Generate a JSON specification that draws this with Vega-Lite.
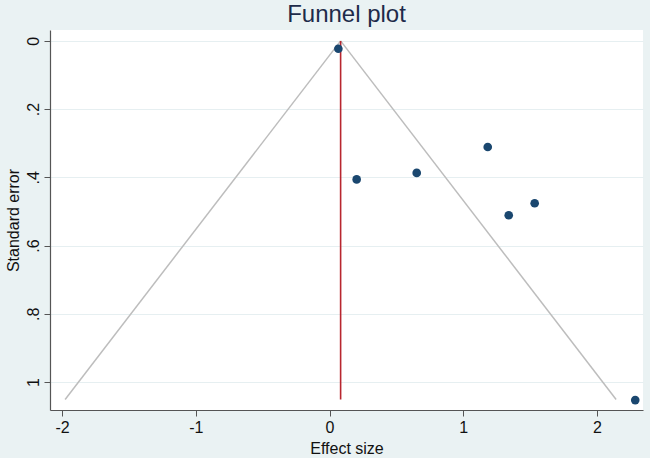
{
  "$schema": "https://vega.github.io/schema/vega-lite/v6.json",
  "autosize": {"type": "none"},
  "width": 593,
  "height": 380,
  "padding": {"top": 30, "left": 50, "right": 7, "bottom": 48},
  "background": "#EAF2F3",
  "config": {
    "view": {"stroke": null, "fill": "white"},
    "font": "Liberation Sans"
  },
  "title": {
    "text": "Funnel plot",
    "fontSize": 24,
    "fontWeight": "normal",
    "color": "#1E2B4A",
    "anchor": "middle",
    "offset": 3,
    "font": "Liberation Sans"
  },
  "datasets": {
    "studies": [
      {"effect": 0.066, "se": 0.023},
      {"effect": 0.203, "se": 0.406},
      {"effect": 0.652, "se": 0.387},
      {"effect": 1.183, "se": 0.311},
      {"effect": 1.340, "se": 0.511},
      {"effect": 1.534, "se": 0.476},
      {"effect": 2.286, "se": 1.053}
    ],
    "funnel": [
      {"side": "left", "effect": 0.083, "se": 0},
      {"side": "left", "effect": -1.977, "se": 1.051},
      {"side": "right", "effect": 0.083, "se": 0},
      {"side": "right", "effect": 2.143, "se": 1.051}
    ],
    "pooled": [
      {"effect": 0.083, "se_top": 0, "se_bottom": 1.051}
    ]
  },
  "layer": [
    {
      "data": {"name": "funnel"},
      "mark": {"type": "line", "color": "#BDBDBD", "strokeWidth": 1.5},
      "encoding": {
        "x": {
          "field": "effect", "type": "quantitative",
          "scale": {"domain": [-2.09, 2.344], "nice": false, "zero": false},
          "axis": {
            "title": "Effect size",
            "values": [-2, -1, 0, 1, 2],
            "labelExpr": "datum.value < 0 ? '-' + abs(datum.value) : '' + datum.value",
            "grid": false,
            "domainColor": "#555555",
            "domainWidth": 1.2,
            "tickColor": "#555555",
            "tickSize": 6,
            "labelFontSize": 16,
            "labelColor": "#111111",
            "labelPadding": 3,
            "titleFontSize": 16,
            "titleFontWeight": "normal",
            "titleColor": "#111111",
            "titlePadding": 5,
            "labelFlush": false
          }
        },
        "y": {
          "field": "se", "type": "quantitative",
          "scale": {"domain": [-0.032, 1.082], "nice": false, "zero": false, "reverse": true},
          "axis": {
            "title": "Standard error",
            "values": [0, 0.2, 0.4, 0.6, 0.8, 1],
            "labelExpr": "datum.value == 0 ? '0' : datum.value == 1 ? '1' : replace(format(datum.value, '.1f'), '0.', '.')",
            "grid": true,
            "gridColor": "#E6EFF1",
            "gridWidth": 1,
            "domainColor": "#555555",
            "domainWidth": 1.2,
            "tickColor": "#555555",
            "tickSize": 6,
            "labelAngle": -90,
            "labelAlign": "center",
            "labelBaseline": "bottom",
            "labelFontSize": 16,
            "labelColor": "#111111",
            "labelPadding": 3,
            "titleFontSize": 16,
            "titleFontWeight": "normal",
            "titleColor": "#111111",
            "titlePadding": 4,
            "labelFlush": false
          }
        },
        "detail": {"field": "side", "type": "nominal"},
        "order": {"field": "se", "type": "quantitative"}
      }
    },
    {
      "data": {"name": "pooled"},
      "mark": {"type": "rule", "color": "#B8262F", "strokeWidth": 1.6},
      "encoding": {
        "x": {"field": "effect", "type": "quantitative"},
        "y": {"field": "se_top", "type": "quantitative"},
        "y2": {"field": "se_bottom"}
      }
    },
    {
      "data": {"name": "studies"},
      "mark": {"type": "point", "filled": true, "shape": "circle", "size": 75, "color": "#1A476F", "opacity": 1},
      "encoding": {
        "x": {"field": "effect", "type": "quantitative"},
        "y": {"field": "se", "type": "quantitative"}
      }
    }
  ]
}
